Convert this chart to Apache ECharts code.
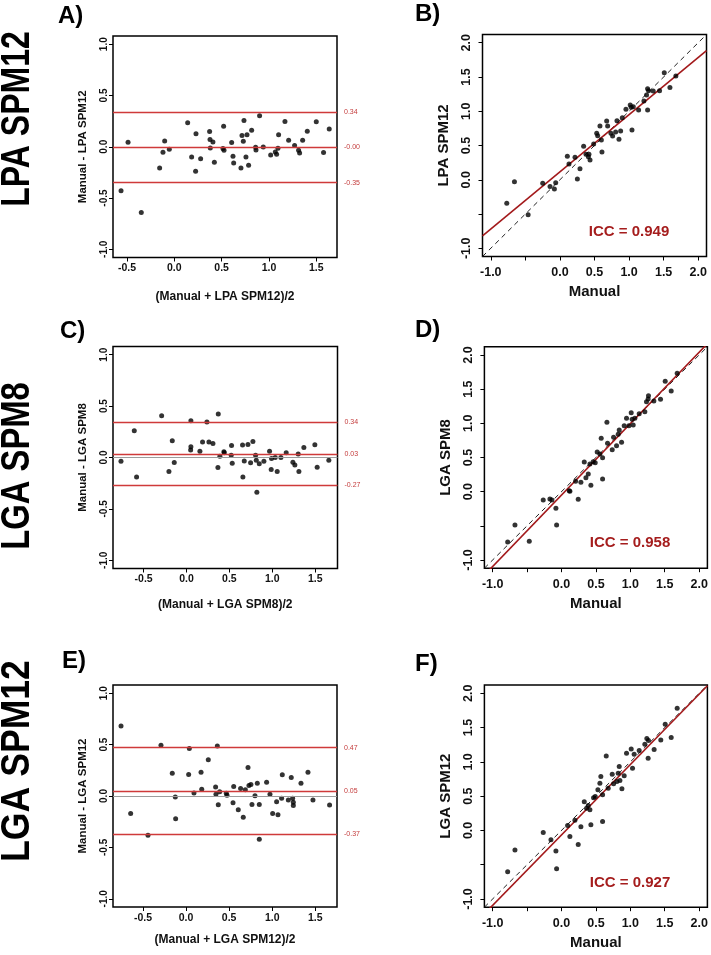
<!DOCTYPE html>
<html><head><meta charset="utf-8">
<script src="https://cdn.jsdelivr.net/npm/echarts@6/dist/echarts.min.js"></script>
<style>html,body{margin:0;padding:0;background:#fff}#c{width:711px;height:955px}</style>
</head><body><div id="c"></div>
<script>
// ---------- DATA ----------
// A) Bland-Altman: Manual vs LPA SPM12  (x = mean, y = difference)
const aX = [-0.563,-0.489,-0.349,-0.155,-0.120,-0.102,-0.053,0.141,0.183,0.229,0.225,0.278,0.373,0.377,0.380,0.408,0.423,0.521,0.514,0.525,0.606,0.620,0.627,0.704,0.715,0.729,0.736,0.757,0.768,0.785,0.817,0.859,0.863,0.901,0.940,1.018,1.067,1.081,1.095,1.102,1.169,1.208,1.271,1.313,1.324,1.356,1.405,1.500,1.577,1.637];
const aY = [-0.429,0.045,-0.641,-0.207,-0.054,0.057,-0.024,0.233,-0.100,0.126,-0.240,-0.116,0.149,0.070,-0.011,0.047,-0.152,0.201,-0.018,-0.034,0.041,-0.093,-0.158,-0.207,0.109,0.054,0.256,-0.100,0.116,-0.181,0.162,-0.005,-0.031,0.302,-0.002,-0.080,-0.051,-0.073,-0.015,0.116,0.246,0.064,0.011,-0.034,-0.060,0.064,0.152,0.243,-0.057,0.174];
const aLimits = [0.34, -0.004, -0.35]; // upper, mean, lower

// B) Manual vs LPA SPM12
const bX = [-0.769,-0.658,-0.460,-0.249,-0.143,-0.080,-0.061,0.107,0.131,0.218,0.252,0.290,0.343,0.377,0.411,0.420,0.435,0.488,0.532,0.546,0.579,0.599,0.608,0.676,0.690,0.738,0.762,0.806,0.825,0.854,0.878,0.902,0.955,1.017,1.032,1.042,1.061,1.138,1.215,1.253,1.268,1.268,1.282,1.349,1.441,1.509,1.591,1.677];
const bY = [-0.342,-0.028,-0.510,-0.052,-0.100,-0.135,-0.042,0.342,0.230,0.328,0.011,0.162,0.488,0.371,0.337,0.371,0.288,0.522,0.677,0.644,0.785,0.580,0.405,0.857,0.785,0.677,0.638,0.697,0.862,0.590,0.711,0.906,1.028,1.091,1.057,0.726,1.067,1.018,1.149,1.236,1.328,1.018,1.299,1.294,1.299,1.562,1.348,1.513];
const bFit = [0.116, 0.834]; // intercept, slope
const bICC = 'ICC = 0.949';

// C) Bland-Altman: Manual vs LGA SPM8
const cX = [-0.764,-0.609,-0.582,-0.290,-0.205,-0.166,-0.143,0.051,0.051,0.048,0.156,0.187,0.238,0.261,0.308,0.370,0.366,0.389,0.436,0.440,0.525,0.521,0.533,0.653,0.657,0.673,0.716,0.747,0.774,0.805,0.813,0.820,0.848,0.902,0.968,0.987,0.991,1.034,1.057,1.100,1.162,1.240,1.263,1.302,1.310,1.368,1.496,1.523,1.659];
const cY = [-0.036,0.261,-0.189,0.407,-0.137,0.163,-0.049,0.358,0.104,0.072,0.062,0.150,0.345,0.150,0.137,0.423,-0.098,0.013,0.055,0.046,0.117,0.023,-0.055,0.121,-0.189,-0.033,0.127,-0.052,0.156,0.023,-0.026,-0.339,-0.062,-0.036,0.062,-0.117,-0.010,0.000,-0.137,0.000,0.046,-0.046,-0.072,0.033,-0.137,0.098,0.124,-0.094,-0.026];
const cLimits = [0.34, 0.03, -0.27];

// D) Manual vs LGA SPM8
const dX = [-0.782,-0.676,-0.468,-0.265,-0.168,-0.139,-0.081,-0.071,0.113,0.122,0.243,0.205,0.282,0.331,0.355,0.389,0.413,0.427,0.461,0.490,0.519,0.558,0.577,0.597,0.597,0.660,0.669,0.737,0.757,0.800,0.824,0.839,0.873,0.911,0.945,0.979,1.013,1.027,1.042,1.066,1.129,1.211,1.235,1.264,1.259,1.342,1.439,1.507,1.594,1.681];
const dY = [-0.737,-0.488,-0.727,-0.122,-0.107,-0.122,-0.244,-0.488,0.015,0.005,-0.112,0.151,0.137,0.434,0.205,0.259,0.405,0.093,0.439,0.424,0.580,0.551,0.780,0.498,0.185,1.015,0.707,0.615,0.795,0.673,0.839,0.902,0.722,0.966,1.073,0.966,1.156,1.059,0.976,1.073,1.141,1.171,1.317,1.405,1.356,1.327,1.351,1.615,1.473,1.732];
const dFit = [-0.05, 1.045];
const dICC = 'ICC = 0.958';

// E) Bland-Altman: Manual vs LGA SPM12
const eX = [-0.755,-0.643,-0.442,-0.291,-0.160,-0.125,-0.121,0.030,0.038,0.092,0.174,0.182,0.258,0.343,0.347,0.363,0.374,0.390,0.467,0.475,0.545,0.553,0.606,0.633,0.664,0.688,0.719,0.730,0.753,0.765,0.800,0.827,0.850,0.850,0.935,0.974,1.005,1.051,1.067,1.109,1.117,1.187,1.221,1.237,1.245,1.245,1.334,1.415,1.473,1.666];
const eY = [0.680,-0.170,-0.382,0.493,0.222,-0.010,-0.222,0.209,0.461,0.029,0.232,0.065,0.353,0.088,0.016,0.487,-0.085,0.042,0.026,0.007,-0.065,0.092,-0.134,0.072,-0.206,0.062,0.278,0.101,0.111,-0.082,0.003,0.124,-0.082,-0.422,0.134,0.016,-0.170,-0.056,-0.183,-0.023,0.206,-0.039,0.180,-0.023,-0.062,-0.092,0.124,0.232,-0.039,-0.088];
const eLimits = [0.47, 0.05, -0.37];

// F) Manual vs LGA SPM12
const fX = [-0.782,-0.676,-0.265,-0.153,-0.081,-0.071,0.089,0.122,0.195,0.243,0.282,0.331,0.364,0.389,0.413,0.427,0.466,0.490,0.529,0.558,0.572,0.597,0.597,0.650,0.679,0.737,0.757,0.805,0.824,0.839,0.849,0.878,0.911,0.945,1.013,1.032,1.056,1.129,1.211,1.240,1.259,1.264,1.346,1.443,1.507,1.594,1.681];
const fY = [-0.602,-0.286,-0.029,-0.136,-0.301,-0.558,0.073,-0.087,0.150,-0.204,0.053,0.417,0.325,0.364,0.301,0.083,0.476,0.495,0.592,0.689,0.786,0.519,0.131,1.087,0.617,0.820,0.680,0.714,0.835,0.932,0.728,0.607,0.796,1.126,1.189,0.908,1.112,1.165,1.257,1.340,1.053,1.311,1.180,1.320,1.549,1.354,1.782];
const fFit = [-0.066, 1.027];
const fICC = 'ICC = 0.927';

// tick values
const baXTicks = [-0.5, 0, 0.5, 1, 1.5];
const baYTicks = [-1, -0.5, 0, 0.5, 1];
const scTicks = [-1, -0.5, 0, 0.5, 1, 1.5, 2];
const scLabels = [-1, 0, 0.5, 1, 1.5, 2];

// text
const rowLabels = ['LPA SPM12', 'LGA SPM8', 'LGA SPM12'];
const panelLetters = ['A)', 'B)', 'C)', 'D)', 'E)', 'F)'];
const baXNames = ['(Manual + LPA SPM12)/2', '(Manual + LGA SPM8)/2', '(Manual + LGA SPM12)/2'];
const baYNames = ['Manual - LPA SPM12', 'Manual - LGA SPM8', 'Manual - LGA SPM12'];
const scYNames = ['LPA SPM12', 'LGA SPM8', 'LGA SPM12'];

// ---------- BUILD ----------
const FONT = "'Liberation Sans', Arial, Helvetica, sans-serif";
const RED_BA = '#cf3a3a', RED_LBL = '#c43c3c', RED_FIT = '#a3191b', RED_ICC = '#a51d1d';
const zip = (xs, ys) => xs.map((x, i) => [x, ys[i]]);
const f1 = v => (Math.abs(v) < 1e-9 ? 0 : v).toFixed(1);

const grids = [
  {left:113, top:36, width:224, height:221.5},
  {left:482.5, top:34.5, width:224, height:222},
  {left:113, top:346.5, width:224.5, height:222},
  {left:484.4, top:346.8, width:223, height:221.4},
  {left:113, top:685, width:224, height:222},
  {left:484.4, top:685.1, width:223, height:222.1}
].map(g => Object.assign(g, {show:true, borderColor:'#000', borderWidth:1.5, backgroundColor:'transparent'}));

const baXRange = [[-0.648, 1.719], [-0.857, 1.76], [-0.848, 1.752]];
const baYRange = [-1.08, 1.08];
const scRange = [-1.12, 2.12];
const baXNameGap = [33.5, 30.5, 27];

const xAxes = [], yAxes = [], series = [];

function axis(isX, gi, min, max, ticks, labels, fs, margin, name, nameFs, nameGap) {
  return {
    type:'value', gridIndex:gi, min:min, max:max,
    axisLine:{show:false, onZero:false},
    axisTick:{show:true, inside:false, length:4, customValues:ticks, lineStyle:{color:'#000', width:1}},
    axisLabel:{customValues:labels, formatter:f1, fontSize:fs, fontWeight:'bold', color:'#111',
      fontFamily:FONT, margin:margin, rotate: isX ? 0 : 90},
    splitLine:{show:false},
    name:name, nameLocation:'middle', nameGap:nameGap,
    nameTextStyle:{fontSize:nameFs, fontWeight:'bold', color:'#111', fontFamily:FONT}
  };
}

const ba = [[aX,aY,aLimits],[cX,cY,cLimits],[eX,eY,eLimits]];
const sc = [[bX,bY,bFit],[dX,dY,dFit],[fX,fY,fFit]];

for (let r = 0; r < 3; r++) {
  // Bland-Altman panel (left)
  const gi = r * 2;
  xAxes.push(axis(true, gi, baXRange[r][0], baXRange[r][1], baXTicks, baXTicks, 10.5, 5.5, baXNames[r], 12, baXNameGap[r]));
  yAxes.push(axis(false, gi, baYRange[0], baYRange[1], baYTicks, baYTicks, 10, 4, baYNames[r], 11.5, 24));
  const lim = ba[r][2];
  const limLine = v => ({yAxis:v, lineStyle:{color:RED_BA, width:1.3, type:'solid'},
    label:{show:true, position:'end', distance:7, formatter:v.toFixed(2), color:RED_LBL, fontSize:7, fontFamily:FONT}});
  series.push({
    type:'scatter', xAxisIndex:gi, yAxisIndex:gi, data:zip(ba[r][0], ba[r][1]),
    symbolSize:5, itemStyle:{color:'#000'}, z:3,
    markLine:{silent:true, symbol:['none','none'], animation:false,
      data:[
        {yAxis:0, lineStyle:{color:'#9c9c9c', width:1, type:'solid'}, label:{show:false}},
        limLine(lim[0]), limLine(lim[1]), limLine(lim[2])
      ]}
  });

  // Scatter panel (right)
  const gj = r * 2 + 1;
  xAxes.push(axis(true, gj, scRange[0], scRange[1], scTicks, scLabels, 12.5, 9.5, 'Manual', 15, 28));
  yAxes.push(axis(false, gj, scRange[0], scRange[1], scTicks, scLabels, 12.5, 9.5, scYNames[r], 15, 31));
  const [a, b] = sc[r][2];
  series.push({
    type:'line', xAxisIndex:gj, yAxisIndex:gj, data:[[scRange[0],scRange[0]],[scRange[1],scRange[1]]],
    symbol:'none', clip:true, silent:true, z:2, lineStyle:{color:'#222', width:1, type:[5,4]}
  });
  series.push({
    type:'line', xAxisIndex:gj, yAxisIndex:gj,
    data:[[scRange[0], a + b*scRange[0]], [scRange[1], a + b*scRange[1]]],
    symbol:'none', clip:true, silent:true, z:2, lineStyle:{color:RED_FIT, width:1.6}
  });
  series.push({
    type:'scatter', xAxisIndex:gj, yAxisIndex:gj, data:zip(sc[r][0], sc[r][1]),
    symbolSize:5, itemStyle:{color:'#000'}, z:3
  });
}

// graphic text
const graphic = [];
const rowPos = [[18, 119, 0.80], [18, 466, 0.82], [18, 761, 0.89]];
rowLabels.forEach((t, i) => graphic.push({
  type:'text', x:rowPos[i][0], y:rowPos[i][1], rotation:Math.PI/2, scaleX:rowPos[i][2], scaleY:1,
  style:{text:t, fill:'#000', font:"bold 40px 'Liberation Sans', Arial, sans-serif",
    textAlign:'center', textVerticalAlign:'middle', align:'center', verticalAlign:'middle'}
}));
const letterPos = [[58,16],[415,14.5],[60,331],[415,330],[62,661],[415,664]];
panelLetters.forEach((t, i) => graphic.push({
  type:'text', x:letterPos[i][0], y:letterPos[i][1],
  style:{text:t, fill:'#000', font:"bold 24px 'Liberation Sans', Arial, sans-serif",
    textAlign:'left', textVerticalAlign:'middle', align:'left', verticalAlign:'middle'}
}));
const iccPos = [[629,232],[630,543],[630,883]];
[bICC, dICC, fICC].forEach((t, i) => graphic.push({
  type:'text', x:iccPos[i][0], y:iccPos[i][1],
  style:{text:t, fill:RED_ICC, font:"bold 15px 'Liberation Sans', Arial, sans-serif",
    textAlign:'center', textVerticalAlign:'middle', align:'center', verticalAlign:'middle'}
}));

const chart = echarts.init(document.getElementById('c'), null, {renderer:'canvas'});
chart.setOption({
  animation:false,
  backgroundColor:'#fff',
  textStyle:{fontFamily:FONT},
  grid:grids, xAxis:xAxes, yAxis:yAxes, series:series, graphic:graphic
});
</script></body></html>
